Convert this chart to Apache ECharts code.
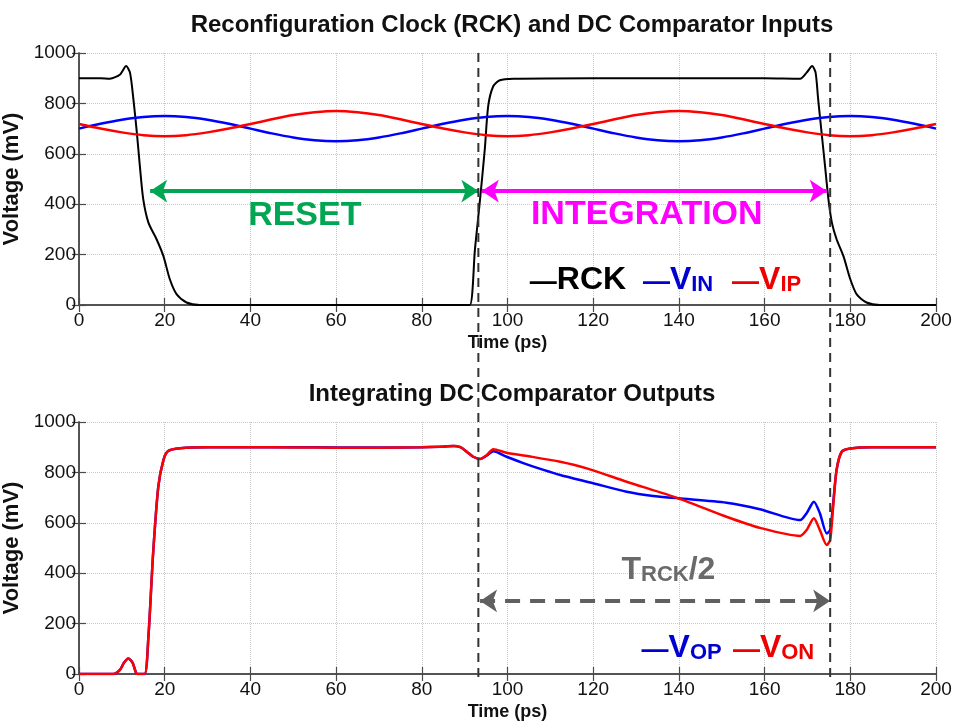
<!DOCTYPE html>
<html lang="en">
<head>
<meta charset="UTF-8">
<title>RCK and comparator</title>
<script src="https://cdn.jsdelivr.net/npm/echarts@6/dist/echarts.min.js"></script>
<style>
    html,body{margin:0;padding:0;background:#fff;}
    #main{width:958px;height:728px;}
</style>
</head>
<body>
<div id="main"></div>
<script>
// ---- top plot: reconfiguration clock and comparator inputs (time in ps, voltage in mV)
var rckT = [0, 5, 7.2, 9.6, 11.0, 11.9, 12.7, 13.5, 14.2, 15.0, 16.2, 18.1, 19.7, 21.2, 22.8, 25.1, 28.2, 40, 60, 80,
            89, 91.2, 92.4, 93.6, 94.7, 95.5, 96.7, 98.2, 101.4, 120, 140, 160, 168.3, 169.8, 171.1, 171.9, 172.5, 173.3, 174.1, 174.9,
            175.7, 176.8, 178.4, 180.0, 181.5, 183.8, 186.9, 200];
var rckV = [900, 900, 898, 915, 948, 922, 816, 684, 552, 419, 327, 261, 194, 102, 42, 10, 0, 0, 0, 0,
            0, 0, 221, 420, 618, 790, 869, 892, 898, 900, 900, 900, 898, 922, 948, 922, 816, 684, 552, 419,
            327, 261, 194, 102, 42, 10, 0, 0];
var inT = [0, 5, 10, 15, 20, 25, 30, 35, 40, 45, 50, 55, 60, 65, 70, 75, 80, 85, 90, 95, 100,
           105, 110, 115, 120, 125, 130, 135, 140, 145, 150, 155, 160, 165, 170, 175, 180, 185, 190, 195, 200];
var vinV = [700, 719, 735, 746, 750, 746, 735, 719, 700, 681, 665, 654, 650, 654, 665, 681, 700, 719, 735, 746, 750,
            746, 735, 719, 700, 681, 665, 654, 650, 654, 665, 681, 700, 719, 735, 746, 750, 746, 735, 719, 700];
var vipV = [718, 700, 685, 674, 670, 674, 685, 700, 718, 737, 754, 765, 770, 765, 754, 737, 718, 700, 685, 674, 670,
            674, 685, 700, 718, 737, 754, 765, 770, 765, 754, 737, 718, 700, 685, 674, 670, 674, 685, 700, 718];

// ---- bottom plot: integrating comparator outputs
var opT = [0, 8, 9.5, 10.5, 11.5, 12.5, 13.3, 13.6, 15.3, 16.2, 17.3, 18.5, 19.7, 20.8, 23.6, 30, 40, 50, 60, 70,
           80, 84.2, 87.4, 89, 90.5, 92, 93.6, 95.1, 96.7, 99.8, 104, 108.4, 112.3, 120, 127.8, 134, 139.9, 151.1, 158.9, 168.3,
           169.8, 171.5, 172.9, 174.5, 175.3, 176.0, 176.8, 178.0, 180.0, 185, 200];
var opV = [0, 0, 15, 45, 62, 45, 5, 0, 0, 148, 479, 743, 849, 885, 896, 900, 900, 900, 899, 899,
           900, 902, 905, 900, 882, 862, 853, 866, 884, 862, 835, 810, 790, 757, 723, 706, 697, 680, 654, 611,
           638, 684, 638, 558, 571, 677, 810, 882, 895, 900, 900];
var onT = [0, 8, 9.5, 10.5, 11.5, 12.5, 13.3, 13.6, 15.3, 16.2, 17.3, 18.5, 19.7, 20.8, 23.6, 30, 40, 50, 60, 70,
           80, 84.2, 87.4, 89, 90.5, 92, 93.6, 95.1, 96.7, 99.8, 105, 112.3, 118.5, 127.8, 139.9, 151.1, 158.9, 168.3,
           169.8, 171.5, 172.9, 174.5, 175.3, 176.0, 176.8, 178.0, 180.0, 185, 200];
var onV = [0, 0, 15, 45, 62, 45, 5, 0, 0, 148, 479, 743, 849, 885, 896, 900, 900, 899, 898, 898,
           900, 902, 905, 900, 882, 862, 853, 868, 892, 878, 864, 842, 816, 763, 697, 624, 580, 548,
           571, 618, 571, 512, 532, 664, 810, 882, 895, 900, 900];

// axis ranges
var tMin = 0, tMax = 200, tStep = 20;
var vMin = 0, vMax = 1000, vStep = 200;

// annotations (data coords)
var edgeT = [93.2, 175.3];           // dashed RCK edge markers
var resetSpan = [16.6, 93.2], integSpan = [94.0, 174.5], spanLevel = 452;
var halfSpan = [93.6, 175.3], halfLevel = 290;

var FONT = "'Liberation Sans', Arial, Helvetica, sans-serif";
var GREEN = '#00a651', MAGENTA = '#ff00ff', BLUE = '#0000ff', RED = '#ff0000', GREY = '#606060';

function pairs(t, v) {
    return t.map(function (x, i) { return [x, v[i]]; });
}

function xAx(grid, pos, labels) {
    return {
        type: 'value', gridIndex: grid, position: pos, min: tMin, max: tMax, interval: tStep,
        name: labels ? 'Time (ps)' : '', nameLocation: 'middle', nameGap: 29,
        nameTextStyle: {fontFamily: FONT, fontWeight: 'bold', fontSize: 18, color: '#111'},
        axisLine: {show: true, lineStyle: {color: '#4a4a4a', width: 1.5}},
        axisTick: {show: true, inside: true, length: 7, lineStyle: {color: '#4a4a4a', width: 1.2}},
        axisLabel: {show: labels, fontFamily: FONT, fontSize: 19, color: '#111', margin: 6,
                    formatter: function (v) { return String(v); }},
        splitLine: {show: labels, lineStyle: {color: '#c8c8c8', type: 'dotted', width: 1}}
    };
}
function yAx(grid, pos, labels) {
    return {
        type: 'value', gridIndex: grid, position: pos, min: vMin, max: vMax, interval: vStep,
        name: labels ? 'Voltage (mV)' : '', nameLocation: 'middle', nameGap: 46,
        nameTextStyle: {fontFamily: FONT, fontWeight: 'bold', fontSize: 22, color: '#111'},
        axisLine: {show: true, lineStyle: {color: '#4a4a4a', width: 1.5}},
        axisTick: {show: true, inside: true, length: 7, lineStyle: {color: '#4a4a4a', width: 1.2}},
        axisLabel: {show: labels, fontFamily: FONT, fontSize: 19, color: '#111', margin: 3,
                    formatter: function (v) { return String(v); }},
        splitLine: {show: labels, lineStyle: {color: '#c8c8c8', type: 'dotted', width: 1}}
    };
}
function line(name, data, color, xi, yi, w) {
    return {
        name: name, type: 'line', xAxisIndex: xi, yAxisIndex: yi, data: data,
        showSymbol: false, smooth: 0.25, lineStyle: {color: color, width: w}, itemStyle: {color: color},
        silent: true
    };
}

var chart = echarts.init(document.getElementById('main'));

var vip = line('VIP', pairs(inT, vipV), RED, 0, 0, 2.5);
vip.markLine = {
    silent: true, animation: false, symbol: ['arrow', 'arrow'], symbolSize: 17, label: {show: false},
    data: [
        [{coord: [resetSpan[0], spanLevel], lineStyle: {color: GREEN, width: 4, type: 'solid'}}, {coord: [resetSpan[1], spanLevel]}],
        [{coord: [integSpan[0], spanLevel], lineStyle: {color: MAGENTA, width: 4, type: 'solid'}}, {coord: [integSpan[1], spanLevel]}]
    ]
};
var von = line('VON', pairs(onT, onV), RED, 2, 2, 2.5);
von.markLine = {
    silent: true, animation: false, symbol: ['arrow', 'arrow'], symbolSize: 17, label: {show: false},
    data: [
        [{coord: [halfSpan[0], halfLevel], lineStyle: {color: GREY, width: 4, type: [15, 10]}}, {coord: [halfSpan[1], halfLevel]}]
    ]
};

chart.setOption({
    animation: false,
    backgroundColor: '#fff',
    title: [
        {text: 'Reconfiguration Clock (RCK) and DC Comparator Inputs', left: 507, top: 8, textAlign: 'center',
         textStyle: {fontFamily: FONT, fontWeight: 'bold', fontSize: 24, color: '#111'}},
        {text: 'Integrating DC Comparator Outputs', left: 507, top: 377, textAlign: 'center',
         textStyle: {fontFamily: FONT, fontWeight: 'bold', fontSize: 24, color: '#111'}}
    ],
    grid: [
        {left: 79, right: 22, top: 53, height: 252, outerBoundsMode: 'none', containLabel: false},
        {left: 79, right: 22, top: 422, height: 252, outerBoundsMode: 'none', containLabel: false}
    ],
    xAxis: [xAx(0, 'bottom', true), xAx(0, 'top', false), xAx(1, 'bottom', true), xAx(1, 'top', false)],
    yAxis: [yAx(0, 'left', true), yAx(0, 'right', false), yAx(1, 'left', true), yAx(1, 'right', false)],
    series: [
        line('RCK', pairs(rckT, rckV), '#000', 0, 0, 2),
        line('VIN', pairs(inT, vinV), BLUE, 0, 0, 2.5),
        vip,
        line('VOP', pairs(opT, opV), BLUE, 2, 2, 2.5),
        von
    ]
});

// overlay: edge markers spanning both plots and the text labels
function px(si, x, y) { return chart.convertToPixel({seriesIndex: si}, [x, y]); }
function txt(si, x, y, align, text, rich) {
    var p = px(si, x, y);
    return {type: 'text', x: p[0], y: p[1], z: 100, silent: true,
        style: {text: text, rich: rich, align: align, verticalAlign: 'middle',
                textAlign: align, textVerticalAlign: 'middle'}};
}
function legendRich(color) {
    return {
        d: {fontFamily: FONT, fontWeight: 'bold', fontSize: 27, fill: color, color: color, lineHeight: 32, verticalAlign: 'bottom'},
        b: {fontFamily: FONT, fontWeight: 'bold', fontSize: 32, fill: color, color: color, lineHeight: 32, verticalAlign: 'bottom'},
        s: {fontFamily: FONT, fontWeight: 'bold', fontSize: 22, fill: color, color: color, lineHeight: 14, verticalAlign: 'bottom'}
    };
}
var g = [];
edgeT.forEach(function (t) {
    var a = px(0, t, vMax), b = px(3, t, vMin);
    g.push({type: 'line', z: 90, silent: true, shape: {x1: a[0], y1: a[1], x2: b[0], y2: b[1] + 4},
        style: {stroke: '#333', lineWidth: 2, lineDash: [9, 6]}});
});
g.push(txt(0, 52.7, 353, 'center', '{t|RESET}', {t: {fontFamily: FONT, fontWeight: 'bold', fontSize: 34, fill: GREEN, color: GREEN}}));
g.push(txt(0, 132.5, 360, 'center', '{t|INTEGRATION}', {t: {fontFamily: FONT, fontWeight: 'bold', fontSize: 34, fill: MAGENTA, color: MAGENTA}}));
g.push(txt(0, 105.2, 100, 'left', '{d|—}{b|RCK}', legendRich('#000')));
g.push(txt(0, 131.6, 100, 'left', '{d|—}{b|V}{s|IN}', legendRich('#0000d0')));
g.push(txt(0, 152.4, 100, 'left', '{d|—}{b|V}{s|IP}', legendRich('#ee0000')));
g.push(txt(3, 126.6, 413, 'left', '{b|T}{s|RCK}{b|/2}', legendRich('#6a6a6a')));
g.push(txt(3, 131.3, 103, 'left', '{d|—}{b|V}{s|OP}', legendRich('#0000d0')));
g.push(txt(3, 152.6, 103, 'left', '{d|—}{b|V}{s|ON}', legendRich('#ee0000')));
chart.setOption({graphic: g});
</script>
</body>
</html>
